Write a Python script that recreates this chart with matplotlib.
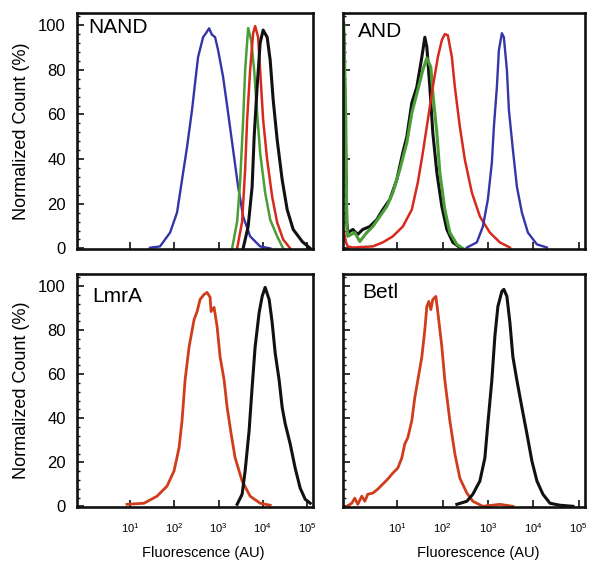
import numpy as np
import matplotlib
matplotlib.use('Agg')
import matplotlib.pyplot as plt
from matplotlib.ticker import FixedLocator, LogLocator, MultipleLocator, NullFormatter

plt.rcParams['font.family'] = ['Liberation Sans', 'DejaVu Sans']
plt.rcParams['mathtext.fontset'] = 'custom'
plt.rcParams['mathtext.rm'] = 'Liberation Sans'

# histogram traces, x in log10(AU), y in normalized count (%)
nand_blue_x = [1.45, 1.678, 1.905, 2.063, 2.176, 2.289, 2.402, 2.470, 2.538, 2.651, 2.72, 2.787, 2.85, 2.923,
               2.991, 3.104, 3.217, 3.330, 3.443, 3.557, 3.715, 3.941, 4.17]
nand_blue_y = [0.3, 0.9, 7.1, 16.1, 30.8, 45.5, 62.1, 74.1, 85.7, 94.6, 96.5, 98.6, 95.8, 94.6,
               88.8, 76.8, 60.7, 44.2, 27.7, 14.3, 5.4, 0.9, 0]
nand_green_x = [3.308, 3.421, 3.489, 3.557, 3.602, 3.670, 3.738, 3.806, 3.873, 3.941, 4.054, 4.168, 4.326, 4.462]
nand_green_y = [0, 12, 30, 57.6, 79.9, 98.7, 93.3, 79.9, 60.7, 42.9, 25, 12.9, 5.4, 0]
nand_red_x = [3.421, 3.534, 3.602, 3.647, 3.715, 3.783, 3.828, 3.896, 3.941, 4.009, 4.100, 4.213, 4.326,
              4.462, 4.620]
nand_red_y = [0, 12, 35.3, 57.6, 79.9, 96.4, 99.6, 94.6, 79.9, 57.6, 39.7, 23.2, 11.6, 4, 0]
nand_black_x = [3.557, 3.670, 3.760, 3.806, 3.873, 3.941, 4.009, 4.100, 4.168, 4.236, 4.326, 4.439, 4.552,
                4.688, 4.892, 5.073]
nand_black_y = [0, 9.8, 27.7, 50, 72.3, 92, 97.8, 94.6, 84.4, 66.5, 48.7, 30.8, 17.4, 8.5, 3.1, 0]

and_black_x = [-0.178, -0.134, -0.112, -0.090, 0.021, 0.131, 0.241, 0.396, 0.550, 0.683, 0.837, 0.992,
               1.124, 1.212, 1.323, 1.433, 1.544, 1.610, 1.654, 1.720, 1.786, 1.875, 1.985, 2.095, 2.228, 2.382]
and_black_y = [96, 40, 12, 7, 8.5, 6.3, 8.5, 9.8, 12.9, 17.4, 21.9, 30.8,
               42.9, 50, 65.2, 72.3, 85.7, 94.6, 90.2, 72.3, 51.8, 33.9, 18.8, 8.5, 2.7, 0.4]
and_green_x = [-0.178, -0.134, -0.112, -0.090, 0.065, 0.175, 0.330, 0.462, 0.617, 0.771, 0.904, 1.058,
               1.212, 1.323, 1.455, 1.566, 1.654, 1.742, 1.786, 1.875, 1.941, 2.051, 2.161, 2.316, 2.448]
and_green_y = [101, 60, 10, 5.4, 7.1, 3.1, 7.1, 9.8, 14.3, 18.8, 25, 35.3,
               47.3, 60.7, 71, 79.9, 85.3, 81.3, 69.6, 51.8, 33.9, 17.4, 7.1, 1.8, 0]
and_red_x = [-0.178, -0.134, -0.090, 0.021, 0.462, 0.683, 0.904, 1.124, 1.323, 1.455, 1.566, 1.676, 1.786,
             1.897, 1.985, 2.051, 2.117, 2.206, 2.272, 2.382, 2.493, 2.647, 2.824, 3.044, 3.265, 3.486]
and_red_y = [8, 3, 0.9, 0.4, 0.9, 2.7, 5.4, 9.8, 17.4, 29.5, 42.9, 57.6, 72.3,
             85.7, 93.3, 96, 95.5, 85.7, 72.3, 54.5, 39.7, 25, 14.3, 7.1, 2.7, 0.4]
and_blue_x = [2.537, 2.757, 2.890, 3.000, 3.088, 3.133, 3.199, 3.243, 3.309, 3.353, 3.420, 3.464, 3.552,
              3.640, 3.750, 3.883, 4.082, 4.302]
and_blue_y = [0.4, 2.7, 9.8, 21.9, 38.4, 54.5, 72.3, 88.8, 96.4, 94.6, 79.9, 62, 44.2,
              27.7, 16.1, 7.1, 1.8, 0.4]

lmra_red_x = [0.932, 1.316, 1.610, 1.837, 1.995, 2.108, 2.176, 2.244, 2.335, 2.448, 2.516, 2.583, 2.674,
              2.742, 2.810, 2.832, 2.900, 2.968, 3.036, 3.127, 3.195, 3.285, 3.376, 3.534, 3.715, 3.941, 4.168]
lmra_red_y = [0.9, 1.4, 4.6, 9.2, 16.1, 26.6, 39, 57.3, 72.5, 84.9, 88.5, 94, 96.3,
              97.2, 95, 88.5, 90.4, 81.7, 67.9, 57.3, 45, 33, 22, 11.5, 4.6, 1.4, 0.5]
lmra_black_x = [3.421, 3.534, 3.602, 3.692, 3.760, 3.828, 3.919, 3.987, 4.054, 4.145, 4.213, 4.281, 4.371,
                4.439, 4.507, 4.620, 4.733, 4.846, 4.960, 5.073]
lmra_black_y = [0.9, 5.5, 16.1, 34.4, 54.1, 72.5, 88.1, 95.4, 99.5, 94, 83.5, 69.7, 57.3,
                45, 37.6, 28.4, 17.4, 8.3, 3.2, 1.4]

betl_red_x = [-0.112, -0.001, 0.065, 0.131, 0.219, 0.286, 0.352, 0.462, 0.572, 0.683, 0.793, 0.904, 1.014,
              1.102, 1.168, 1.235, 1.323, 1.389, 1.455, 1.544, 1.610, 1.654, 1.698, 1.742, 1.786, 1.853,
              1.897, 1.985, 2.051, 2.161, 2.272, 2.382, 2.537, 2.669, 2.890, 3.265, 3.552]
betl_red_y = [0, 1.4, 3.7, 0.9, 4.6, 2.3, 5.5, 6, 7.8, 10.1, 12.4, 15.1, 17.4,
              22, 28.4, 31.2, 39, 49.5, 57.3, 67.9, 80.3, 90.8, 93.1, 89.4, 94, 95.4,
              88.1, 72.5, 57.3, 39, 23.9, 12.8, 6, 2.3, 0, 0.9, 0]
betl_black_x = [2.316, 2.537, 2.669, 2.824, 2.934, 3.000, 3.088, 3.154, 3.221, 3.309, 3.353, 3.420, 3.486,
                3.552, 3.640, 3.750, 3.861, 3.971, 4.082, 4.214, 4.369, 4.589, 4.876]
betl_black_y = [0.9, 2.3, 5.5, 11.5, 22, 37.6, 57.3, 77.1, 90.8, 97.7, 98.6, 95.4, 83.5,
                67.9, 57.3, 45, 33, 20.6, 11.5, 5.5, 1.4, 0.5, 0]

BLUE = '#3535a8'
GREEN = '#4a9e38'
RED = '#d82a1c'
ORANGE = '#cf3d1c'
BLACK = '#111111'

# name, axes rect, traces, y labels?, x labels?, name position, xlabel x
panels = [
    ('NAND', [0.130, 0.556, 0.399, 0.421],
     [(nand_blue_x, nand_blue_y, BLUE, 1.7), (nand_green_x, nand_green_y, GREEN, 1.8),
      (nand_red_x, nand_red_y, RED, 1.8), (nand_black_x, nand_black_y, BLACK, 2.2)],
     True, False, (0.047, 0.915), 0.534),
    ('AND', [0.579, 0.556, 0.409, 0.421],
     [(and_black_x, and_black_y, BLACK, 2.2), (and_green_x, and_green_y, GREEN, 2.2),
      (and_red_x, and_red_y, RED, 1.8), (and_blue_x, and_blue_y, BLUE, 1.7)],
     False, False, (0.062, 0.898), 0.558),
    ('LmrA', [0.130, 0.0963, 0.399, 0.415],
     [(lmra_red_x, lmra_red_y, ORANGE, 2.0), (lmra_black_x, lmra_black_y, BLACK, 2.2)],
     True, True, (0.064, 0.88), 0.534),
    ('Betl', [0.579, 0.0963, 0.409, 0.415],
     [(betl_red_x, betl_red_y, ORANGE, 2.0), (betl_black_x, betl_black_y, BLACK, 2.2)],
     False, True, (0.079, 0.897), 0.558),
]

fig = plt.figure(figsize=(5.92, 5.61), dpi=100)

for name, rect, traces, show_y, show_x, name_pos, xlab_x in panels:
    ax = fig.add_axes(rect)
    for xs, ys, color, lw in traces:
        ax.plot(10 ** np.array(xs), ys, color=color, lw=lw, solid_joinstyle='round')
    ax.set_xscale('log')
    ax.set_xlim(10 ** -0.2, 10 ** 5.14)
    ax.set_ylim(-0.3, 105.5)
    for sp in ax.spines.values():
        sp.set_linewidth(1.9)
        sp.set_color('#111111')

    ax.xaxis.set_major_locator(FixedLocator([1e1, 1e2, 1e3, 1e4, 1e5]))
    ax.xaxis.set_minor_locator(LogLocator(base=10, subs=np.arange(2, 10)))
    ax.xaxis.set_minor_formatter(NullFormatter())
    ax.yaxis.set_major_locator(MultipleLocator(20))
    ax.yaxis.set_minor_locator(MultipleLocator(4))
    ax.tick_params(which='major', direction='in', length=5, width=1.2, color='#111111')
    ax.tick_params(which='minor', direction='in', length=2.5, width=1.0, color='#111111')
    ax.tick_params(top=False, right=False, which='both')

    if show_x:
        ax.set_xticklabels([r'$\mathregular{10^{%d}}$' % k for k in range(1, 6)], fontsize=8)
        ax.tick_params(axis='x', pad=10)
        ax.set_xlabel('Fluorescence (AU)', fontsize=10.5, labelpad=8.5)
        ax.xaxis.label.set_x(xlab_x)
    else:
        ax.set_xticklabels([])
    if show_y:
        ax.tick_params(axis='y', labelsize=12, pad=8)
        ax.set_ylabel('Normalized Count (%)', fontsize=13, labelpad=6)
    else:
        ax.set_yticklabels([])

    ax.text(name_pos[0], name_pos[1], name, transform=ax.transAxes,
            ha='left', va='baseline', fontsize=15)

fig.savefig('out.png', dpi=100)
